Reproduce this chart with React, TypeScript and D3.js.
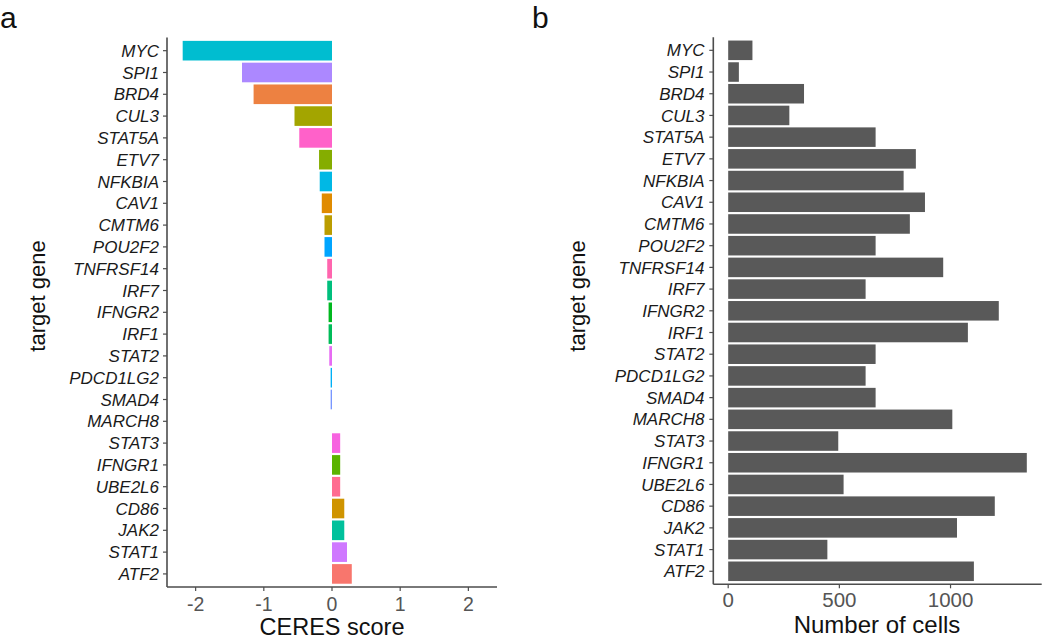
import React from "react";
import * as d3 from "d3";

const genes = ["MYC","SPI1","BRD4","CUL3","STAT5A","ETV7","NFKBIA","CAV1","CMTM6","POU2F2","TNFRSF14","IRF7","IFNGR2","IRF1","STAT2","PDCD1LG2","SMAD4","MARCH8","STAT3","IFNGR1","UBE2L6","CD86","JAK2","STAT1","ATF2"];
const ceresScores = [-2.19,-1.32,-1.15,-0.55,-0.48,-0.19,-0.18,-0.15,-0.11,-0.11,-0.07,-0.07,-0.05,-0.05,-0.04,-0.02,-0.02,0,0.12,0.12,0.12,0.18,0.18,0.22,0.29];
const cellCounts = [109,48,341,275,663,844,789,885,817,663,967,618,1217,1078,663,618,663,1008,495,1343,519,1199,1029,446,1105];
const ceresTicks = [-2,-1,0,1,2];
const cellTicks = [0,500,1000];

// ggplot2 default hue palette (HCL polar LUV, l=65, c=100)
function hclLuv(h: number, c: number, l: number): string {
  const Xn = 95.047, Yn = 100, Zn = 108.883;
  const den = Xn + 15 * Yn + 3 * Zn;
  const un = (4 * Xn) / den, vn = (9 * Yn) / den;
  const hr = (h * Math.PI) / 180;
  const u = c * Math.cos(hr), v = c * Math.sin(hr);
  const Y = l > 8 ? Yn * Math.pow((l + 16) / 116, 3) : (Yn * l) / 903.3;
  const up = u / (13 * l) + un, vp = v / (13 * l) + vn;
  const X = (Y * 9 * up) / (4 * vp);
  const Z = (Y * (12 - 3 * up - 20 * vp)) / (4 * vp);
  const x = X / 100, y = Y / 100, z = Z / 100;
  const lin = [
    3.2404542 * x - 1.5371385 * y - 0.4985314 * z,
    -0.969266 * x + 1.8760108 * y + 0.041556 * z,
    0.0556434 * x - 0.2040259 * y + 1.0572252 * z,
  ];
  const g = lin.map((t) => {
    const s = t <= 0.0031308 ? 12.92 * t : 1.055 * Math.pow(t, 1 / 2.4) - 0.055;
    return Math.round(Math.max(0, Math.min(1, s)) * 255);
  });
  return d3.rgb(g[0], g[1], g[2]).formatHex();
}
const levels = [...genes].sort();
const hueColor = (g: string) => {
  const i = levels.indexOf(g);
  return hclLuv(15 + (360 * i) / levels.length, 100, 65);
};

const FONT = "'Liberation Sans', Arial, sans-serif";

export default function App() {
  const W = 1050, H = 643;
  // Panel a
  const aX = d3.scaleLinear().domain([-2.42, 2.42]).range([167, 497]);
  const aY = d3.scaleBand<string>().domain(genes).range([37.6, 587]).paddingInner(0.1).paddingOuter(0.15);
  // Panel b
  const bX = d3.scaleLinear().domain([-67, 1410]).range([713.3, 1041.7]);
  const bY = d3.scaleBand<string>().domain(genes).range([37.3, 584.3]).paddingInner(0.1).paddingOuter(0.15);

  const axisCol = "#4d4d4d";
  const tickTextCol = "#555555";

  return (
    <svg width={W} height={H} style={{ position: "absolute", left: 0, top: 0, background: "#fff" }} fontFamily={FONT}>
      <rect x={0} y={0} width={W} height={H} fill="#fff" />
      {/* panel labels */}
      <text x={0} y={28} fontSize={30} fill="#111">a</text>
      <text x={532} y={28} fontSize={30} fill="#111">b</text>

      {/* ---------- Panel a ---------- */}
      <g>
        {genes.map((g, i) => {
          const v = ceresScores[i];
          const x0 = aX(Math.min(0, v)), x1 = aX(Math.max(0, v));
          return (
            <rect key={g} x={x0} y={aY(g)} width={Math.max(0, x1 - x0)} height={aY.bandwidth()} fill={hueColor(g)} />
          );
        })}
        <line x1={167} x2={167} y1={37.6} y2={587} stroke={axisCol} strokeWidth={1.6} />
        <line x1={167} x2={497} y1={587} y2={587} stroke={axisCol} strokeWidth={1.6} />
        {genes.map((g) => {
          const cy = (aY(g) as number) + aY.bandwidth() / 2;
          return (
            <g key={g}>
              <line x1={163} x2={167} y1={cy} y2={cy} stroke={axisCol} strokeWidth={1.2} />
              <text x={159} y={cy} dy="0.36em" textAnchor="end" fontSize={17} fontStyle="italic" fill="#1a1a1a">{g}</text>
            </g>
          );
        })}
        {ceresTicks.map((t) => (
          <g key={t}>
            <line x1={aX(t)} x2={aX(t)} y1={587} y2={591} stroke={axisCol} strokeWidth={1.2} />
            <text x={aX(t)} y={611} textAnchor="middle" fontSize={19.5} fill={tickTextCol}>{t}</text>
          </g>
        ))}
        <text x={332} y={635} textAnchor="middle" fontSize={23.5} fill="#111">CERES score</text>
        <text transform="translate(45,296) rotate(-90)" textAnchor="middle" fontSize={22} fill="#111">target gene</text>
      </g>

      {/* ---------- Panel b ---------- */}
      <g>
        {genes.map((g, i) => (
          <rect key={g} x={bX(0)} y={bY(g)} width={bX(cellCounts[i]) - bX(0)} height={bY.bandwidth()} fill="#595959" />
        ))}
        <line x1={713.3} x2={713.3} y1={37.3} y2={584.3} stroke={axisCol} strokeWidth={1.6} />
        <line x1={713.3} x2={1041.7} y1={584.3} y2={584.3} stroke={axisCol} strokeWidth={1.6} />
        {genes.map((g) => {
          const cy = (bY(g) as number) + bY.bandwidth() / 2;
          return (
            <g key={g}>
              <line x1={709.3} x2={713.3} y1={cy} y2={cy} stroke={axisCol} strokeWidth={1.2} />
              <text x={704.5} y={cy} dy="0.36em" textAnchor="end" fontSize={17} fontStyle="italic" fill="#1a1a1a">{g}</text>
            </g>
          );
        })}
        {cellTicks.map((t) => (
          <g key={t}>
            <line x1={bX(t)} x2={bX(t)} y1={584.3} y2={588.3} stroke={axisCol} strokeWidth={1.2} />
            <text x={bX(t)} y={607} textAnchor="middle" fontSize={20.5} fill={tickTextCol}>{t}</text>
          </g>
        ))}
        <text x={877} y={633} textAnchor="middle" fontSize={24} fill="#111">Number of cells</text>
        <text transform="translate(585,296) rotate(-90)" textAnchor="middle" fontSize={22} fill="#111">target gene</text>
      </g>
    </svg>
  );
}
